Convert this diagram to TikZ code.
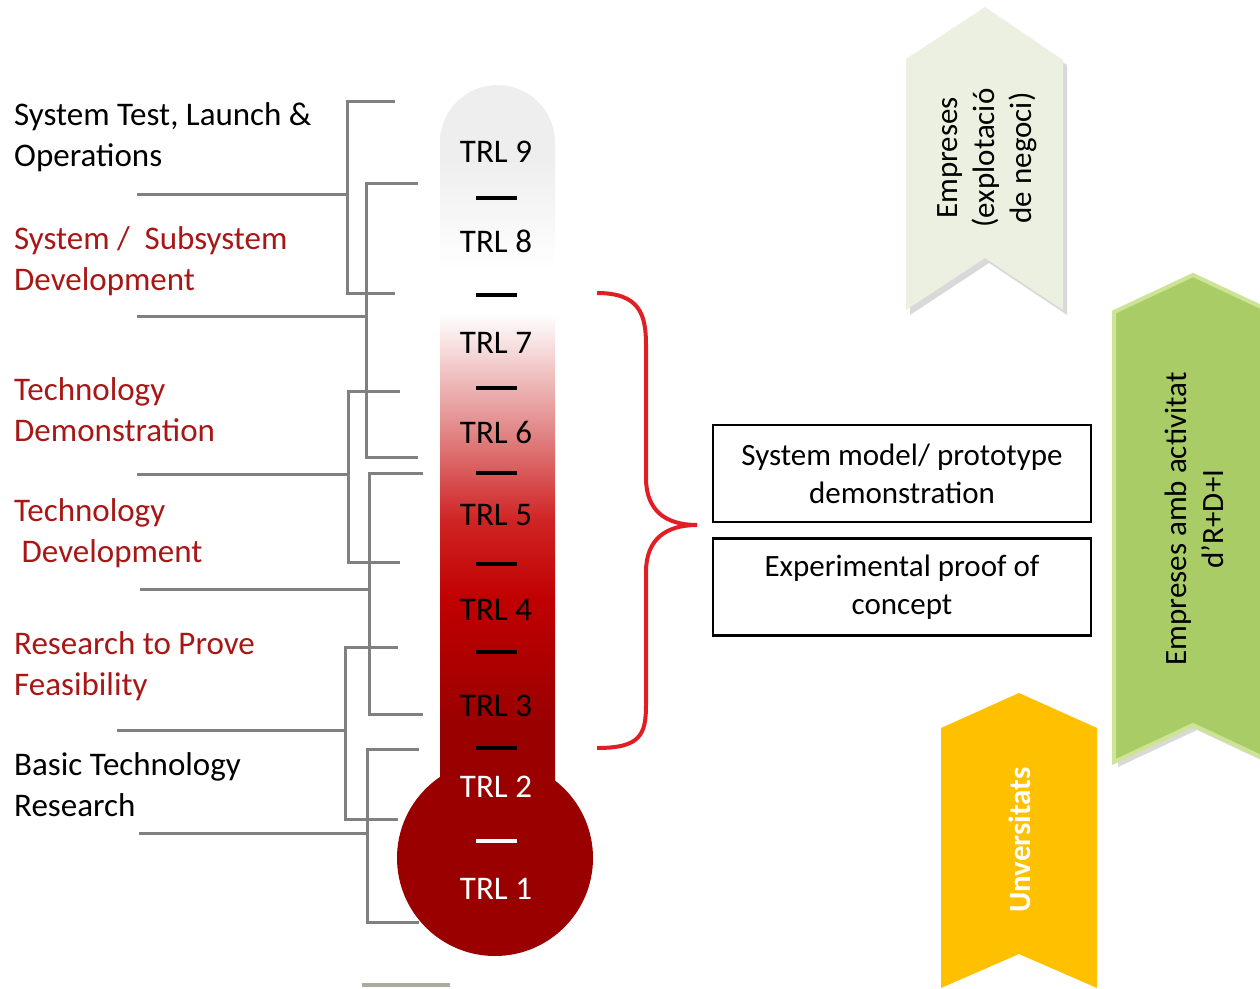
\documentclass[tikz,border=0pt]{standalone}
\usepackage{fontspec}
\setmainfont{Carlito}
\usetikzlibrary{
    positioning
}

\definecolor{trlgray}{RGB}{238,238,238}
\definecolor{trlpink}{RGB}{226,136,136}
\definecolor{trlmid}{RGB}{208,36,36}
\definecolor{trlred}{RGB}{192,0,0}
\definecolor{trldark}{RGB}{155,0,0}
\definecolor{labelred}{RGB}{168,22,22}
\definecolor{bracketgray}{RGB}{128,128,128}
\definecolor{bracered}{RGB}{224,30,36}
\definecolor{paleband}{RGB}{235,240,224}
\definecolor{greenband}{RGB}{169,204,102}
\definecolor{greenedge}{RGB}{205,228,150}
\definecolor{goldband}{RGB}{255,192,0}
\definecolor{footgray}{RGB}{170,170,155}

\pgfdeclareverticalshading{thermo}{100bp}{color(0bp)=(trldark); color(30.6bp)=(trldark); color(39bp)=(trlred); color(44.6bp)=(trlmid); color(50.9bp)=(trlpink); color(59bp)=(white); color(62bp)=(white); color(69.8bp)=(trlgray); color(100bp)=(trlgray)}

\tikzset{trl/.style={
    inner sep=0pt,
    font=\fontsize{33}{40}\selectfont
}}
\tikzset{phase/.style={
    anchor=west,
    align=left,
    inner sep=0pt,
    font=\fontsize{33}{41}\selectfont
}}
\tikzset{bracket/.style={draw=bracketgray, line width=3}}
\tikzset{trldash/.style={line width=4}}
\tikzset{infobox/.style={
    draw,
    line width=2.5,
    minimum width=378,
    minimum height=97,
    font=\fontsize{31}{38}\selectfont
}}
\tikzset{bandtext/.style={
    rotate=90,
    inner sep=0pt,
    font=\fontsize{31}{37}\selectfont
}}

\begin{document}
\begin{tikzpicture}[
            x=1pt, y=1pt,
            align=center,
            node distance=14pt,
    ]
        \useasboundingbox (0,0) rectangle (1260,-988);

        \draw[bracket] (395,-101) -- (347,-101) -- (347,-293) -- (395,-293);
        \draw[bracket] (137,-194) -- (347,-194);
        \draw[bracket] (418,-183) -- (366,-183) -- (366,-457) -- (418,-457);
        \draw[bracket] (137,-316) -- (366,-316);
        \draw[bracket] (400,-391) -- (348,-391) -- (348,-562) -- (400,-562);
        \draw[bracket] (137,-474) -- (348,-474);
        \draw[bracket] (423,-473) -- (369,-473) -- (369,-714) -- (423,-714);
        \draw[bracket] (140,-589) -- (369,-589);
        \draw[bracket] (398,-647) -- (345,-647) -- (345,-819) -- (398,-819);
        \draw[bracket] (117,-730) -- (345,-730);
        \draw[bracket] (419,-749) -- (367,-749) -- (367,-922) -- (419,-922);
        \draw[bracket] (139,-833) -- (367,-833);

        \shade[shading=thermo] (440,-800) -- (440,-142.5)
            arc[start angle=180, end angle=0, radius=57.5] -- (555,-800) -- cycle;
        \fill[trldark] (495,-858) circle[radius=98];

        \node[trl] (trl-9) at (496,-152) {TRL 9};
        \node[trl] (trl-8) at (496,-241) {TRL 8};
        \node[trl] (trl-7) at (496,-343) {TRL 7};
        \node[trl] (trl-6) at (496,-432) {TRL 6};
        \node[trl] (trl-5) at (496,-515) {TRL 5};
        \node[trl] (trl-4) at (496,-610) {TRL 4};
        \node[trl] (trl-3) at (496,-706) {TRL 3};
        \node[trl, text=white] (trl-2) at (496,-787) {TRL 2};
        \node[trl, text=white] (trl-1) at (496,-889) {TRL 1};

        \draw[trldash] (476,-198) -- (517,-198);
        \draw[trldash] (476,-295) -- (517,-295);
        \draw[trldash] (476,-388) -- (517,-388);
        \draw[trldash] (476,-473) -- (517,-473);
        \draw[trldash] (476,-564) -- (517,-564);
        \draw[trldash] (476,-652) -- (517,-652);
        \draw[trldash] (476,-748) -- (517,-748);
        \draw[trldash, white] (476,-841) -- (517,-841);

        \node[phase]
            (operations) at (14,-137)
            {System Test, Launch \&\\Operations};

        \node[phase, text=labelred]
            (subsystem) at (14,-261)
            {System /\ \ Subsystem\\Development};

        \node[phase, text=labelred]
            (demonstration) at (14,-410)
            {Technology\\Demonstration};

        \node[phase, text=labelred]
            (development) at (14,-533)
            {Technology\\\hspace*{7.5pt}Development};

        \node[phase, text=labelred]
            (feasibility) at (14,-666)
            {Research to Prove\\Feasibility};

        \node[phase]
            (basic) at (14,-785)
            {Basic Technology\\Research};

        \draw[bracered, line width=4]
            (597,-293) .. controls (640,-293) and (646,-315) .. (646,-345)
            -- (646,-478) .. controls (646,-510) and (665,-525) .. (697,-525)
            .. controls (665,-525) and (646,-540) .. (646,-572)
            -- (646,-705) .. controls (646,-735) and (640,-748) .. (597,-748);

        \node[infobox]
            (prototype) at (902,-473.5)
            {System model/ prototype\\demonstration};

        \node[infobox, below=of prototype]
            (proof)
            {Experimental proof of\\concept};

        \fill[gray, opacity=0.3] (910,-64) -- (989,-12) -- (1067,-65) -- (1067,-315)
            -- (989,-263) -- (910,-315) -- cycle;
        \fill[paleband] (906,-59) -- (985,-7) -- (1063,-60) -- (1063,-310)
            -- (985,-258) -- (906,-310) -- cycle;
        \node[bandtext]
            (companies) at (987,-158)
            {Empreses\\(explotació\\de negoci)};

        \fill[gray, opacity=0.3] (1118,-317) -- (1197,-280) -- (1276,-317) -- (1276,-767)
            -- (1197,-730) -- (1118,-767) -- cycle;
        \fill[greenband, draw=greenedge, line width=4] (1114,-312) -- (1193,-275)
            -- (1272,-312) -- (1272,-762) -- (1193,-725) -- (1114,-762) -- cycle;
        \node[bandtext]
            (rdi) at (1194,-519)
            {Empreses amb activitat\\d’R+D+I};

        \fill[goldband] (941,-728) -- (1019,-693) -- (1097,-728) -- (1097,-988)
            -- (1019,-954) -- (941,-988) -- cycle;
        \node[bandtext, text=white, font=\fontsize{31}{37}\selectfont\bfseries]
            (universities) at (1020,-840)
            {Unversitats};

        \draw[footgray, line width=4] (362,-985) -- (450,-985);

    \end{tikzpicture}
\end{document}
